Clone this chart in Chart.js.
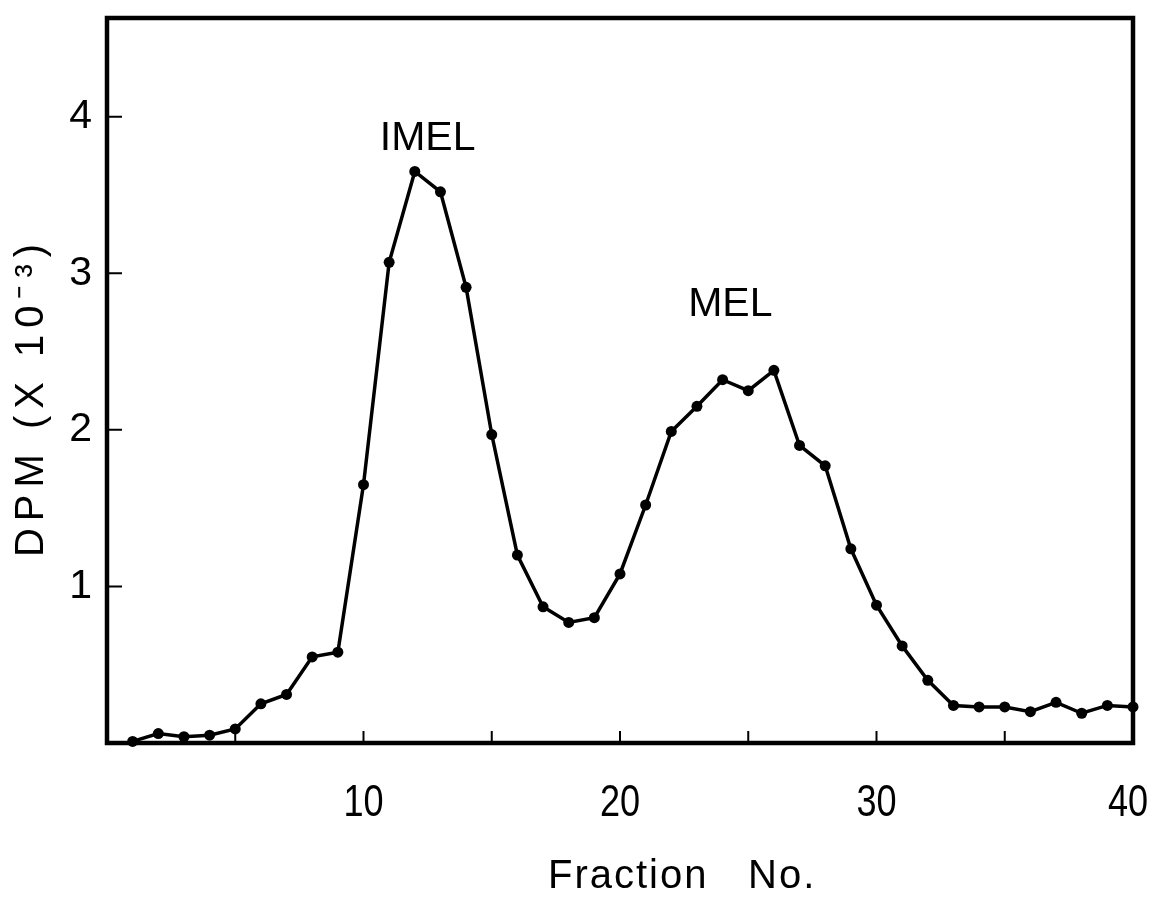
<!DOCTYPE html>
<html>
<head>
<meta charset="utf-8">
<script src="https://cdn.jsdelivr.net/npm/chart.js@4/dist/chart.umd.min.js"></script>
<style>
  html, body { margin: 0; padding: 0; background: #fff; }
  #chart { display: block; }
</style>
</head>
<body>
<canvas id="chart" width="1154" height="911"></canvas>
<script>
// fraction numbers and counts (DPM x 10^-3)
const fractions = [1, 2, 3, 4, 5, 6, 7, 8, 9, 10,
  11, 12, 13, 14, 15, 16, 17, 18, 19, 20,
  21, 22, 23, 24, 25, 26, 27, 28, 29, 30,
  31, 32, 33, 34, 35, 36, 37, 38, 39, 40];
const dpm = [0.01, 0.06, 0.04, 0.05, 0.09, 0.25, 0.31, 0.55, 0.58, 1.65,
  3.07, 3.65, 3.52, 2.91, 1.97, 1.20, 0.87, 0.77, 0.80, 1.08,
  1.52, 1.99, 2.15, 2.32, 2.25, 2.38, 1.90, 1.77, 1.24, 0.88,
  0.62, 0.40, 0.24, 0.23, 0.23, 0.20, 0.26, 0.19, 0.24, 0.23];

const xTickLabels = [10, 20, 30, 40];
const yTickLabels = [1, 2, 3, 4];
const xMinorTicks = [5, 10, 15, 20, 25, 30, 35];

const peakLabels = ['IMEL', 'MEL'];
const peakX = [12.5, 24.3];
const peakY = [3.79, 2.73];

const xTitleWords = ['Fraction', 'No.'];
const yTitle = 'DPM (X 10\u207B\u00B3)';

// frame, inward ticks, narrow x labels, peak names and axis titles
const decorations = {
  id: 'decorations',
  afterDraw(chart) {
    const ctx = chart.ctx;
    const a = chart.chartArea;
    const xs = chart.scales.x;
    const ys = chart.scales.y;
    ctx.save();
    ctx.strokeStyle = '#000';
    ctx.lineWidth = 4.5;
    ctx.strokeRect(a.left, a.top, a.right - a.left, a.bottom - a.top);

    ctx.lineWidth = 2;
    ctx.beginPath();
    xMinorTicks.forEach(v => {
      const px = xs.getPixelForValue(v);
      ctx.moveTo(px, a.bottom);
      ctx.lineTo(px, a.bottom - 12);
    });
    yTickLabels.forEach(v => {
      const py = ys.getPixelForValue(v);
      ctx.moveTo(a.left, py);
      ctx.lineTo(a.left + 15, py);
    });
    ctx.stroke();

    ctx.fillStyle = '#000';
    ctx.textBaseline = 'alphabetic';

    // condensed tick numbers under the x axis
    ctx.font = '44px "Liberation Sans", Arial, sans-serif';
    ctx.textAlign = 'center';
    xTickLabels.forEach(v => {
      ctx.save();
      ctx.translate(xs.getPixelForValue(v) - (v === 40 ? 5 : 0), a.bottom + 73);
      ctx.scale(0.82, 1);
      ctx.fillText(String(v), 0, 0);
      ctx.restore();
    });

    ctx.font = '41px "Liberation Sans", Arial, sans-serif';
    peakLabels.forEach((t, i) => {
      ctx.fillText(t, xs.getPixelForValue(peakX[i]), ys.getPixelForValue(peakY[i]));
    });

    ctx.font = '40px "Liberation Sans", Arial, sans-serif';
    ctx.textAlign = 'left';
    ctx.letterSpacing = '2px';
    ctx.fillText(xTitleWords[0], 548, 888);
    ctx.fillText(xTitleWords[1], 748, 888);

    ctx.textAlign = 'center';
    ctx.font = '40px "Liberation Sans", Arial, sans-serif';
    ctx.translate(43, 397);
    ctx.rotate(-Math.PI / 2);
    ctx.letterSpacing = '7px';
    ctx.fillText(yTitle, 0, 0);
    ctx.restore();
  }
};

new Chart(document.getElementById('chart'), {
  type: 'line',
  data: {
    datasets: [{
      data: fractions.map((f, i) => ({ x: f, y: dpm[i] })),
      borderColor: '#000',
      backgroundColor: '#000',
      borderWidth: 3.5,
      pointRadius: 5.5,
      pointBackgroundColor: '#000',
      pointBorderWidth: 0,
      tension: 0,
      clip: false
    }]
  },
  options: {
    responsive: false,
    animation: false,
    devicePixelRatio: 1,
    layout: { padding: { left: 0, top: 18, right: 21, bottom: 0 } },
    plugins: {
      legend: { display: false },
      tooltip: { enabled: false }
    },
    scales: {
      x: {
        type: 'linear',
        min: 0,
        max: 40,
        afterFit(scale) {
          scale.height = 168;
          scale.paddingLeft = 0;
          scale.paddingRight = 0;
        },
        border: { display: false },
        grid: { display: false },
        ticks: {
          stepSize: 10,
          display: false
        }
      },
      y: {
        min: 0,
        max: 4.63,
        afterFit(scale) {
          scale.width = 107;
          scale.paddingTop = 0;
          scale.paddingBottom = 0;
        },
        border: { display: false },
        grid: { display: false },
        ticks: {
          stepSize: 1,
          padding: 7,
          color: '#000',
          font: { family: '"Liberation Sans", Arial, sans-serif', size: 41 },
          callback: v => yTickLabels.includes(v) ? String(v) : ''
        }
      }
    }
  },
  plugins: [decorations]
});
</script>
</body>
</html>
